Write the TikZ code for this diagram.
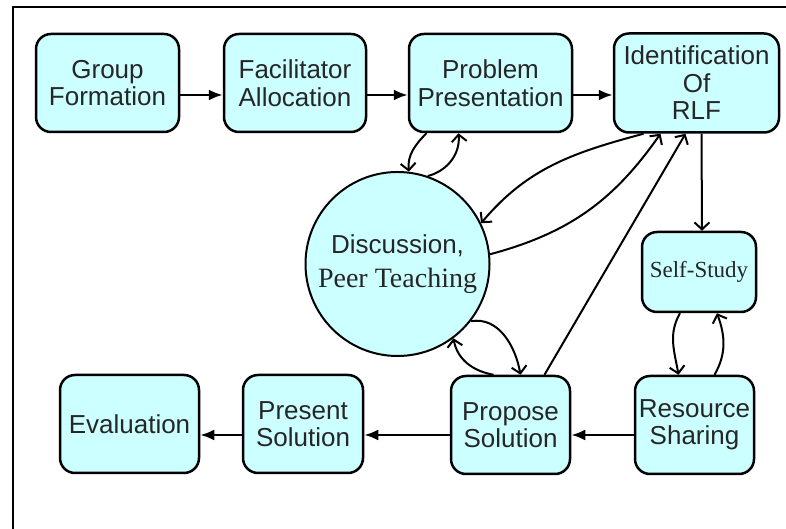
\documentclass[tikz,border=0pt]{standalone}
\usepackage{fontspec}
\setmainfont{Liberation Sans}
\newfontfamily\srf{Liberation Serif}
\usetikzlibrary{arrows.meta}
\definecolor{boxcyan}{HTML}{CCFFFF}
\tikzset{>=Latex,every node/.style={font=\fontsize{26}{27.5}\selectfont,text=black!85},
  box/.style={draw,line width=2.5pt,rounded corners=15pt,fill=boxcyan,align=center,inner sep=0pt},
  hub/.style={draw,circle,line width=2pt,fill=boxcyan,minimum size=184pt,inner sep=0pt,align=center},
  flow/.style={line width=2.5pt,-{Latex[length=14pt,width=11pt]}},
  link/.style={line width=2pt,-{Straight Barb[length=7pt,width=15pt]}}}

\begin{document}
\begin{tikzpicture}[x=1pt,y=1pt]
\useasboundingbox (0,0) rectangle (786,529);
\draw[line width=2.5pt] (13,0)--(13,522)--(786,522);
% top row
\node[box,minimum width=143pt,minimum height=98pt] (grp) at (107.5,446) {Group\\Formation};
\node[box,minimum width=142pt,minimum height=98pt] (fac) at (295,446) {Facilitator\\Allocation};
\node[box,minimum width=163pt,minimum height=98pt] (prob) at (490.5,446) {Problem\\Presentation};
\node[box,minimum width=165pt,minimum height=99pt] (rlf) at (696.5,446) {Identification\\Of\\RLF};
% middle
\node[hub] (disc) at (397.5,265) {Discussion,\\[7pt]{\fontsize{28}{30}\srf Peer Teaching}};
\node[box,minimum width=114pt,minimum height=80pt] (self) at (699,257) {\fontsize{23}{24}\srf Self-Study};
% bottom row
\node[box,minimum width=139pt,minimum height=98pt] (eval) at (129.5,105) {Evaluation};
\node[box,minimum width=120pt,minimum height=98pt] (pres) at (303,105) {Present\\Solution};
\node[box,minimum width=119pt,minimum height=98pt] (prop) at (510.5,104) {Propose\\Solution};
\node[box,minimum width=119pt,minimum height=98pt] (res) at (694.5,104) {Resource\\Sharing};
% straight flow
\draw[flow] ([yshift=-12pt]grp.east)--([yshift=-12pt]fac.west);
\draw[flow] ([yshift=-12pt]fac.east)--([yshift=-12pt]prob.west);
\draw[flow] ([yshift=-12pt]prob.east)--([yshift=-12pt]rlf.west);
\draw[flow] ([yshift=-10pt]res.west)--([yshift=-10pt]prop.east);
\draw[flow] ([yshift=-10pt]prop.west)--([yshift=-10pt]prop.west -| pres.east);
\draw[flow] ([yshift=-11pt]pres.west)--([yshift=-11pt]eval.east);
\draw[link] ([xshift=5pt]rlf.south)--([xshift=3pt]self.north);
% loops round the discussion
\draw[link] ([xshift=-64pt]prob.south) to[out=225,in=95] (disc.83);
\draw[link] (disc.71) to[out=15,in=-85] ([xshift=-32pt]prob.south);
\draw[link] ([xshift=-53pt]rlf.south) to[out=195,in=50] (disc.26);
\draw[link] (disc.6) to[out=15,in=235] ([xshift=-36pt]rlf.south);
\draw[link] ([xshift=34pt]prop.north)--([xshift=-11pt]rlf.south);
\draw[link] (disc.-38) to[out=10,in=100] ([xshift=10pt]prop.north);
\draw[link] ([xshift=-17pt]prop.north) to[out=170,in=-80] (disc.-53);
\draw[link] ([xshift=-19pt]self.south) to[out=240,in=100] ([xshift=-16pt]res.north);
\draw[link] ([xshift=20pt]res.north) to[out=60,in=-70] ([xshift=18pt]self.south);
\end{tikzpicture}
\end{document}
